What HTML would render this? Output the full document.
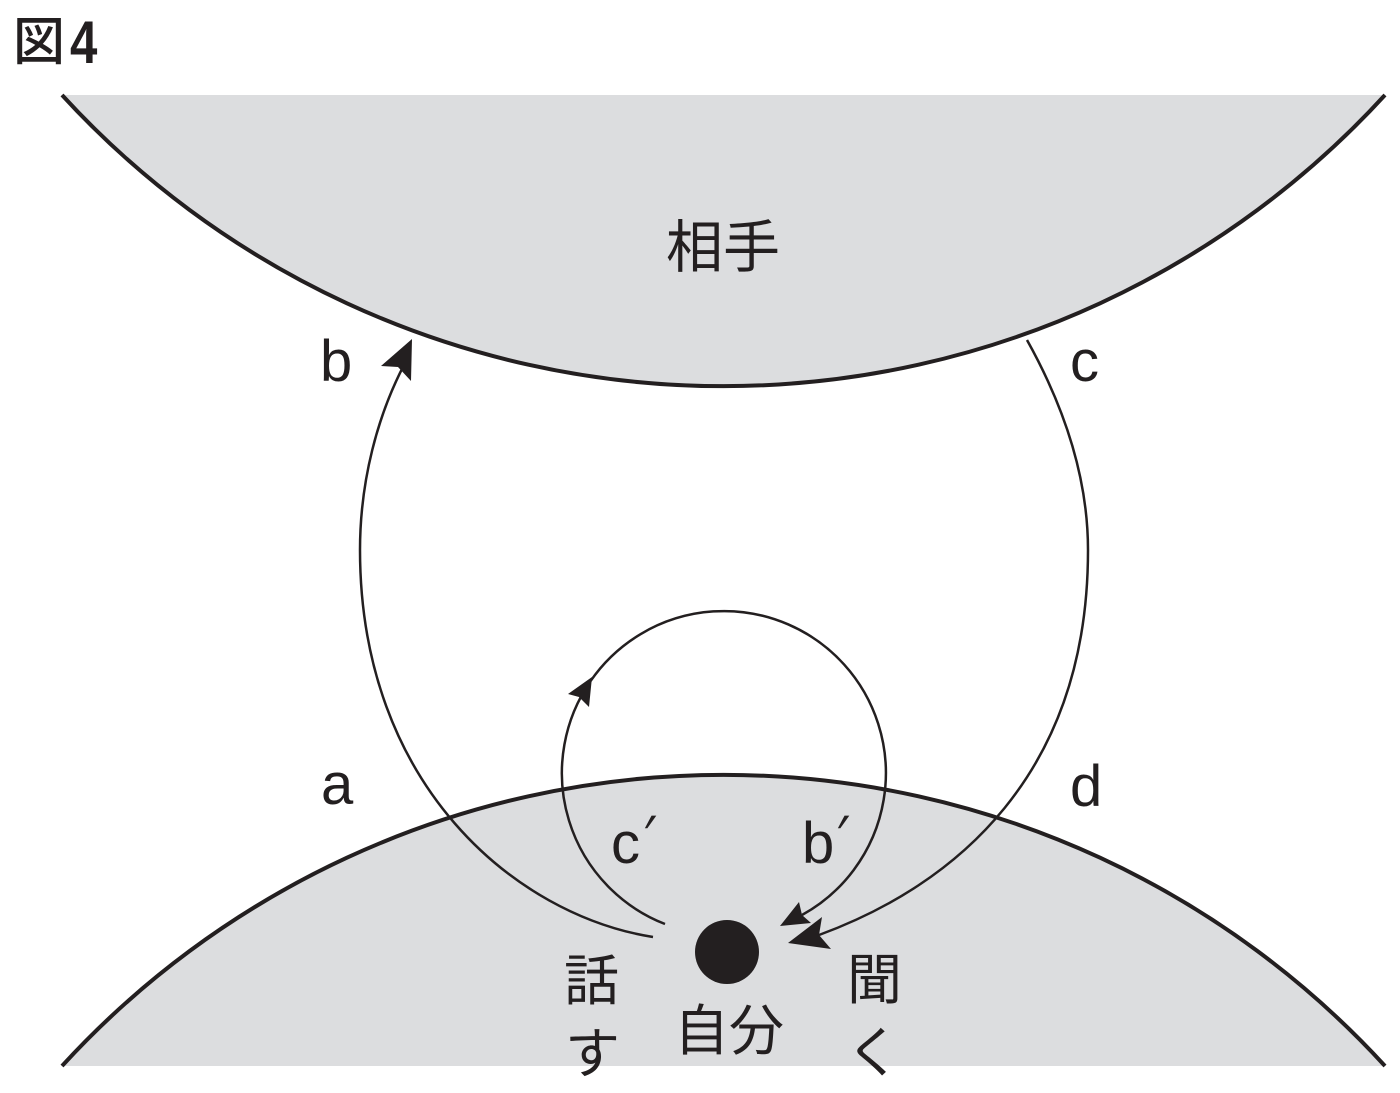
<!DOCTYPE html>
<html lang="ja">
<head>
<meta charset="utf-8">
<title>図4</title>
<style>
html,body{margin:0;padding:0;background:#fff;width:1400px;height:1093px;overflow:hidden}
svg{display:block}
text{fill:#231f20}
.cjk{font-family:"Liberation Sans","Noto Sans CJK JP",sans-serif;font-size:55px}
.lat{font-family:"Liberation Sans",sans-serif;font-size:58px}
</style>
</head>
<body>
<svg xmlns="http://www.w3.org/2000/svg" width="1400" height="1093" viewBox="0 0 1400 1093">
  <rect width="1400" height="1093" fill="#fff"/>

  <path d="M62 95 A897 897 0 0 0 1385 95 Z" fill="#dcdddf"/>
  <path d="M62 95 A897 897 0 0 0 1385 95" fill="none" stroke="#231f20" stroke-width="4"/>

  <path d="M62 1066 A897 897 0 0 1 1385 1066 Z" fill="#dcdddf"/>
  <path d="M62 1066 A897 897 0 0 1 1385 1066" fill="none" stroke="#231f20" stroke-width="4"/>

  <path d="M653 937 C515 915 360 785 360 550 C360 480 378 415 404 365" fill="none" stroke="#231f20" stroke-width="2.5"/>
  <polygon points="412,339 411,381 398,367 381,366" fill="#231f20"/>

  <path d="M1027 340 C1066 410 1088 480 1088 550 C1088 775 955 885 819 935" fill="none" stroke="#231f20" stroke-width="2.5"/>
  <polygon points="788,943 822,917 819,935 831,949" fill="#231f20"/>

  <path d="M665 924 A162 162 0 1 1 802 915" fill="none" stroke="#231f20" stroke-width="2.5"/>
  <polygon points="592,677 589,707 579,697 568,694" fill="#231f20"/>
  <polygon points="780,926 799,902 802,915 811,923" fill="#231f20"/>

  <circle cx="727" cy="952" r="32" fill="#231f20"/>

  <text x="13" y="60" class="cjk" style="font-size:52px;font-weight:500">図</text>
  <text transform="translate(70 63) scale(.82 1)" class="lat" style="font-size:60px;font-weight:700">4</text>

  <text x="666" y="267" class="cjk" style="font-size:57px">相手</text>

  <text x="321" y="804" class="lat">a</text>
  <text x="320" y="381" class="lat">b</text>
  <text x="1070" y="381" class="lat">c</text>
  <text x="1070" y="806" class="lat">d</text>

  <text x="611" y="863" class="lat">c</text>
  <text transform="translate(634 850) skewX(-22)" class="lat" style="font-size:50px">′</text>
  <text x="802" y="863" class="lat">b</text>
  <text transform="translate(827 850) skewX(-22)" class="lat" style="font-size:50px">′</text>

  <text x="564" y="1000" class="cjk">話</text>
  <text x="565" y="1073" class="cjk">す</text>
  <text x="674" y="1050" class="cjk">自分</text>
  <text x="847" y="999" class="cjk">聞</text>
  <text x="846" y="1072" class="cjk">く</text>
</svg>
</body>
</html>
